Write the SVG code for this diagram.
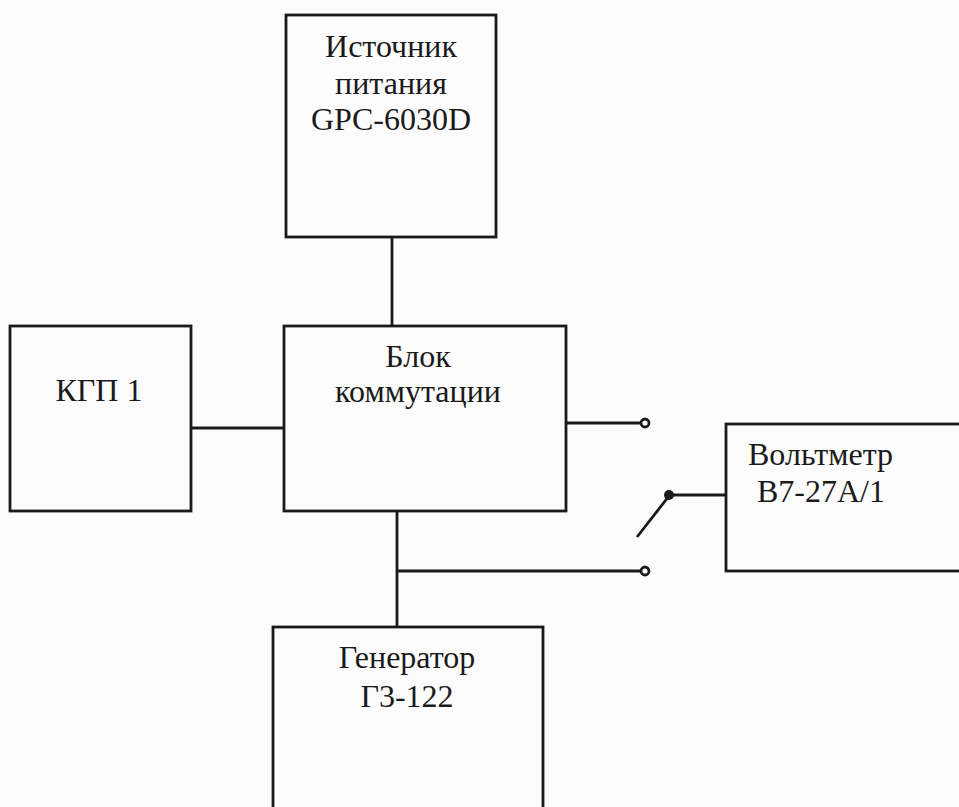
<svg xmlns="http://www.w3.org/2000/svg" width="959" height="807" viewBox="0 0 959 807">
<style>
.box{fill:none;stroke:#1a1a1a;stroke-width:2.8}
.ln{fill:none;stroke:#1a1a1a;stroke-width:2.8}
.t{font-family:"Liberation Serif","Times New Roman",serif;font-size:32px;fill:#1a1a1a;text-anchor:middle}
.tl{font-family:"Liberation Serif","Times New Roman",serif;font-size:32px;fill:#1a1a1a}
</style>
<rect width="959" height="807" fill="#fcfcfc"/>
<g id="connectors">
<line class="ln" x1="392" y1="237" x2="392" y2="326"/>
<line class="ln" x1="191" y1="428" x2="284" y2="428"/>
<line class="ln" x1="566" y1="423" x2="641" y2="423"/>
<circle class="ln" cx="645" cy="423" r="4" stroke-width="2"/>
<line class="ln" x1="397" y1="511" x2="397" y2="627"/>
<line class="ln" x1="397" y1="571" x2="641" y2="571"/>
<circle class="ln" cx="645" cy="571" r="4" stroke-width="2"/>
<line class="ln" x1="637" y1="537" x2="669" y2="496" stroke-width="4"/>
<circle cx="669" cy="495" r="5" fill="#1a1a1a"/>
<line class="ln" x1="669" y1="495" x2="726" y2="495"/>
</g>
<g id="power">
<rect class="box" x="286" y="15" width="210" height="222"/>
<text class="t" x="391" y="57">Источник</text>
<text class="t" x="391" y="94">питания</text>
<text class="t" x="391" y="130">GPC-6030D</text>
</g>
<g id="switchblock">
<rect class="box" x="284" y="326" width="282" height="185"/>
<text class="t" x="418" y="367">Блок</text>
<text class="t" x="418" y="402">коммутации</text>
</g>
<g id="kgp">
<rect class="box" x="10" y="326" width="181" height="185"/>
<text class="t" x="99" y="401">КГП 1</text>
</g>
<g id="voltmeter">
<rect class="box" x="726" y="424" width="240" height="147"/>
<text class="tl" x="748" y="465">Вольтметр</text>
<text class="tl" x="757" y="502">В7-27А/1</text>
</g>
<g id="generator">
<rect class="box" x="273" y="627" width="270" height="200"/>
<text class="t" x="407" y="668">Генератор</text>
<text class="t" x="407" y="707">Г3-122</text>
</g>
</svg>
